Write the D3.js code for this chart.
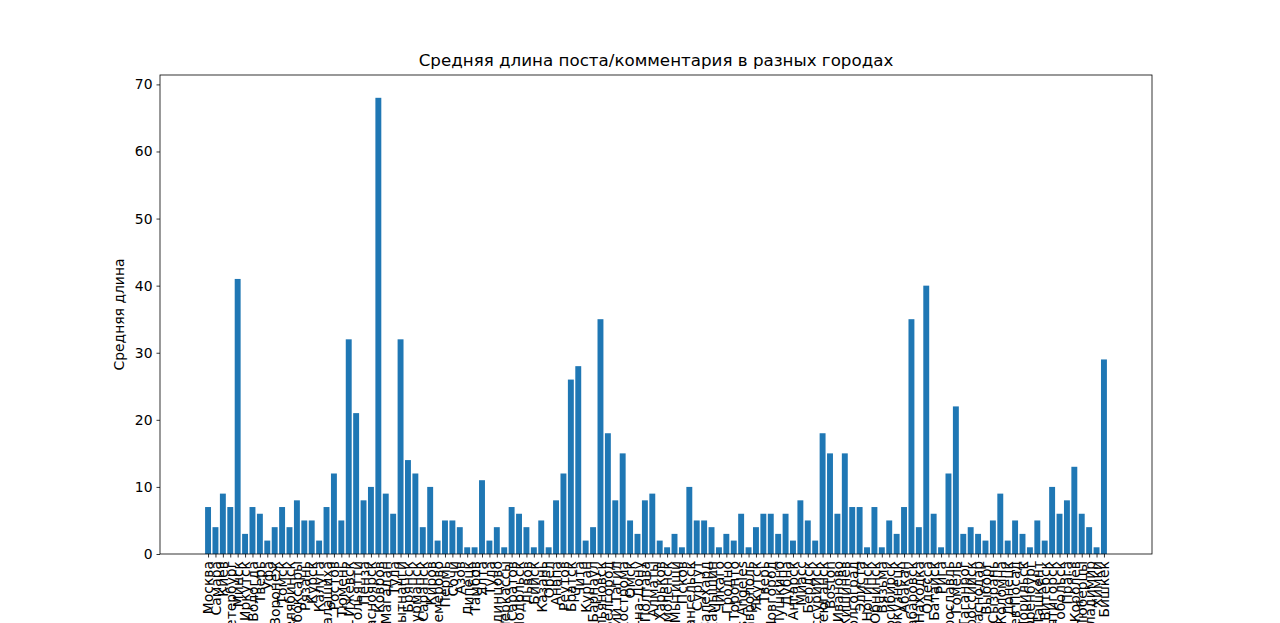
<!DOCTYPE html>
<html>
<head>
<meta charset="utf-8">
<script src="https://cdn.jsdelivr.net/npm/d3@7"></script>
<style>
body { margin: 0; background: #fff; }
text { font-family: "DejaVu Sans", sans-serif; }
</style>
</head>
<body>
<div id="chart"></div>
<script>
// data
var cities = ["Москва", "Самара", "Киев", "Петербург", "Минск", "Иркутск", "Вологда", "Тверь", "Уфа", "Воронеж",
    "Томск", "Челябинск", "Чебоксары", "Рязань", "Курск", "Калуга", "Балашиха", "Ростов", "Тюмень", "Ижевск",
    "Тольятти", "Пенза", "Красноярск", "Ковров", "Магадан", "Тула", "Лабытнанги", "Брянск", "Мурманск", "Саранск",
    "Киров", "Кемерово", "Пермь", "Сочи", "Азов", "Липецк", "Тамбов", "Ялта", "Тула", "Одинцово",
    "Черкассы", "Саратов", "Подольск", "Львов", "Бийск", "Казань", "Орёл", "Анапа", "Реутов", "Братск",
    "Чита", "Курган", "Барнаул", "Ульяновск", "Белгород", "Нижний Тагил", "Кострома", "Омск", "Ростов-на-Дону", "Полтава",
    "Алматы", "Харьков", "Смоленск", "Мытищи", "Псков", "Архангельск", "Сургут", "Салехард", "Камышин", "Чикаго",
    "Гродно", "Торонто", "Los Angeles", "Ставрополь", "Якутск", "Тверь", "Новгород", "Пушкино", "Дубна", "Ангарск",
    "Миасс", "Бердск", "Уссурийск", "Нефтеюганск", "Boston", "Иваново", "Кишинёв", "Волгоград", "Элиста", "Ногинск",
    "Обнинск", "Вязьма", "Новосибирск", "Новокузнецк", "Абакан", "Хабаровск", "Находка", "Одесса", "Батайск", "Рига",
    "Ярославль", "Гомель", "Таганрог", "Новороссийск", "Краснодар", "Выборг", "Сызрань", "Коломна", "Донецк", "Сергиев Посад",
    "Норильск", "Оренбург", "Ташкент", "Витебск", "Пятигорск", "Тобольск", "Прага", "Королёв", "Люберцы", "Владимир",
    "Химки", "Бишкек"];
var avgLength = [7, 4, 9, 7, 41, 3, 7, 6, 2, 4,
    7, 4, 8, 5, 5, 2, 7, 12, 5, 32,
    21, 8, 10, 68, 9, 6, 32, 14, 12, 4,
    10, 2, 5, 5, 4, 1, 1, 11, 2, 4,
    1, 7, 6, 4, 1, 5, 1, 8, 12, 26,
    28, 2, 4, 35, 18, 8, 15, 5, 3, 8,
    9, 2, 1, 3, 1, 10, 5, 5, 4, 1,
    3, 2, 6, 1, 4, 6, 6, 3, 6, 2,
    8, 5, 2, 18, 15, 6, 15, 7, 7, 1,
    7, 1, 5, 3, 7, 35, 4, 40, 6, 1,
    12, 22, 3, 4, 3, 2, 5, 9, 2, 5,
    3, 1, 5, 2, 10, 6, 8, 13, 6, 4,
    1, 29];
var yTicks = [0, 10, 20, 30, 40, 50, 60, 70];

var W = 1280, H = 623;
var plotL = 160, plotR = 1152, plotT = 75, plotB = 554;
var n = cities.length;
var pad = 0.05 * (n - 0.2);

var svg = d3.select("#chart").append("svg").attr("width", W).attr("height", H);

var x = d3.scaleLinear().domain([-0.4 - pad, n - 0.6 + pad]).range([plotL, plotR]);
var y = d3.scaleLinear().domain([0, 71.4]).range([plotB, plotT]);

svg.append("g").selectAll("rect")
    .data(avgLength)
    .enter().append("rect")
    .attr("x", function (d, i) { return x(i - 0.4); })
    .attr("width", x(0.8) - x(0))
    .attr("y", function (d) { return y(d); })
    .attr("height", function (d) { return y(0) - y(d); })
    .attr("fill", "#1f77b4");

// x axis with rotated city names
var xAxis = d3.axisBottom(x).tickValues(d3.range(n)).tickSize(3.5).tickPadding(3)
    .tickFormat(function (i) { return cities[i]; });
var gx = svg.append("g").attr("transform", "translate(0," + plotB + ")").call(xAxis);
gx.selectAll("text")
    .attr("transform", "rotate(-90)")
    .attr("text-anchor", "end")
    .attr("dy", "0.35em")
    .attr("x", -7).attr("y", 0)
    .attr("font-size", 13.9).attr("fill", "#000");

var yAxis = d3.axisLeft(y).tickValues(yTicks).tickSize(3.5).tickPadding(4);
var gy = svg.append("g").attr("transform", "translate(" + plotL + ",0)").call(yAxis);
gy.selectAll("text").attr("font-size", 13.9).attr("fill", "#000");

svg.selectAll(".domain").remove();
svg.selectAll(".tick line").attr("stroke", "#000").attr("stroke-width", 0.8);

// frame
svg.append("rect").attr("x", plotL).attr("y", plotT)
    .attr("width", plotR - plotL).attr("height", plotB - plotT)
    .attr("fill", "none").attr("stroke", "#000").attr("stroke-width", 0.8);

svg.append("text").attr("x", (plotL + plotR) / 2).attr("y", 66)
    .attr("text-anchor", "middle").attr("font-size", 16.7)
    .text("Средняя длина поста/комментария в разных городах");

svg.append("text").attr("transform", "translate(124," + (plotT + plotB) / 2 + ") rotate(-90)")
    .attr("text-anchor", "middle").attr("font-size", 13.9)
    .text("Средняя длина");
</script>
</body>
</html>
